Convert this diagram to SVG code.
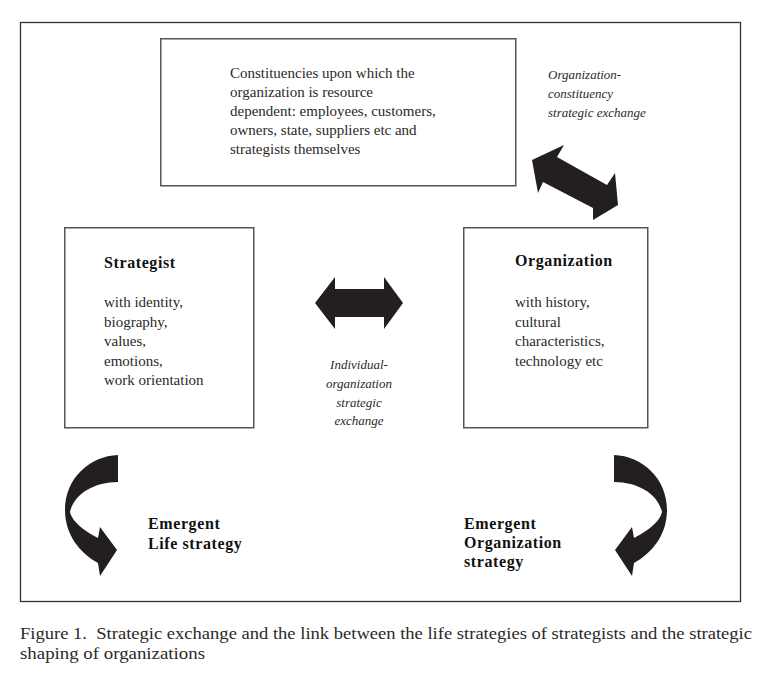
<svg xmlns="http://www.w3.org/2000/svg" width="769" height="679" viewBox="0 0 769 679">
<style>
.box{fill:#fff;stroke:#555;stroke-width:1.5}
.frame{fill:#fff;stroke:#333;stroke-width:1.3}
.arrow{fill:#231f20;stroke:none}
text{font-family:"Liberation Serif","Times New Roman",serif;fill:#2a2a2a}
.body{font-size:15px}
.bold{font-size:16px;font-weight:bold;fill:#111;letter-spacing:0.6px}
.ital{font-size:13px;font-style:italic}
.cap{font-size:16px}
</style>
<rect width="769" height="679" fill="#fff"/>
<rect class="frame" x="20.5" y="22.5" width="720" height="579"/>

<g id="constituencies">
<rect class="box" x="160.75" y="38.75" width="355" height="147"/>
<text class="body" x="230" y="78">Constituencies upon which the</text>
<text class="body" x="230" y="97">organization is resource</text>
<text class="body" x="230" y="116">dependent: employees, customers,</text>
<text class="body" x="230" y="135">owners, state, suppliers etc and</text>
<text class="body" x="230" y="154">strategists themselves</text>
</g>

<g id="strategist">
<rect class="box" x="64.75" y="227.75" width="189" height="200"/>
<text class="bold" x="104" y="268">Strategist</text>
<text class="body" x="104" y="307">with identity,</text>
<text class="body" x="104" y="327">biography,</text>
<text class="body" x="104" y="346">values,</text>
<text class="body" x="104" y="366">emotions,</text>
<text class="body" x="104" y="385">work orientation</text>
</g>

<g id="organization">
<rect class="box" x="463.75" y="227.75" width="184" height="200"/>
<text class="bold" x="515" y="266">Organization</text>
<text class="body" x="515" y="307">with history,</text>
<text class="body" x="515" y="327">cultural</text>
<text class="body" x="515" y="346">characteristics,</text>
<text class="body" x="515" y="366">technology etc</text>
</g>

<g id="label-org-constituency">
<text class="ital" x="548" y="79">Organization-</text>
<text class="ital" x="548" y="98">constituency</text>
<text class="ital" x="548" y="117">strategic exchange</text>
</g>

<g id="label-individual-org" text-anchor="middle">
<text class="ital" x="359" y="369">Individual-</text>
<text class="ital" x="359" y="388">organization</text>
<text class="ital" x="359" y="407">strategic</text>
<text class="ital" x="359" y="425">exchange</text>
</g>

<g id="label-life">
<text class="bold" x="148" y="529">Emergent</text>
<text class="bold" x="148" y="549">Life strategy</text>
</g>

<g id="label-org-strategy">
<text class="bold" x="464" y="529">Emergent</text>
<text class="bold" x="464" y="548">Organization</text>
<text class="bold" x="464" y="567">strategy</text>
</g>

<g id="connectors">
<polygon class="arrow" points="532,160 564,145 557,157 607,185 615,173 618,205 593,220 593,208 543,182 538,193"/>
<polygon class="arrow" points="315,303 335,277 335,289 384,289 384,277 403,303 384,329 384,317 335,317 335,329"/>
<path class="arrow" d="M118,455 C90,456 65,478 65,510 C65,535 80,553 98,563 L100,576 L117,550 L100,527 L98,538 C86,532 72,522 70,512 C74,494 94,482 118,482 Z"/>
<path class="arrow" d="M614,455 C642,456 667,478 667,510 C667,535 652,553 634,563 L632,576 L615,550 L632,527 L634,538 C646,532 660,522 662,512 C658,494 638,482 614,482 Z"/>
</g>

<g id="caption">
<text class="cap" x="20" y="639" textLength="732" lengthAdjust="spacingAndGlyphs" xml:space="preserve">Figure 1.  Strategic exchange and the link between the life strategies of strategists and the strategic</text>
<text class="cap" x="20" y="659" textLength="185" lengthAdjust="spacingAndGlyphs">shaping of organizations</text>
</g>
</svg>
